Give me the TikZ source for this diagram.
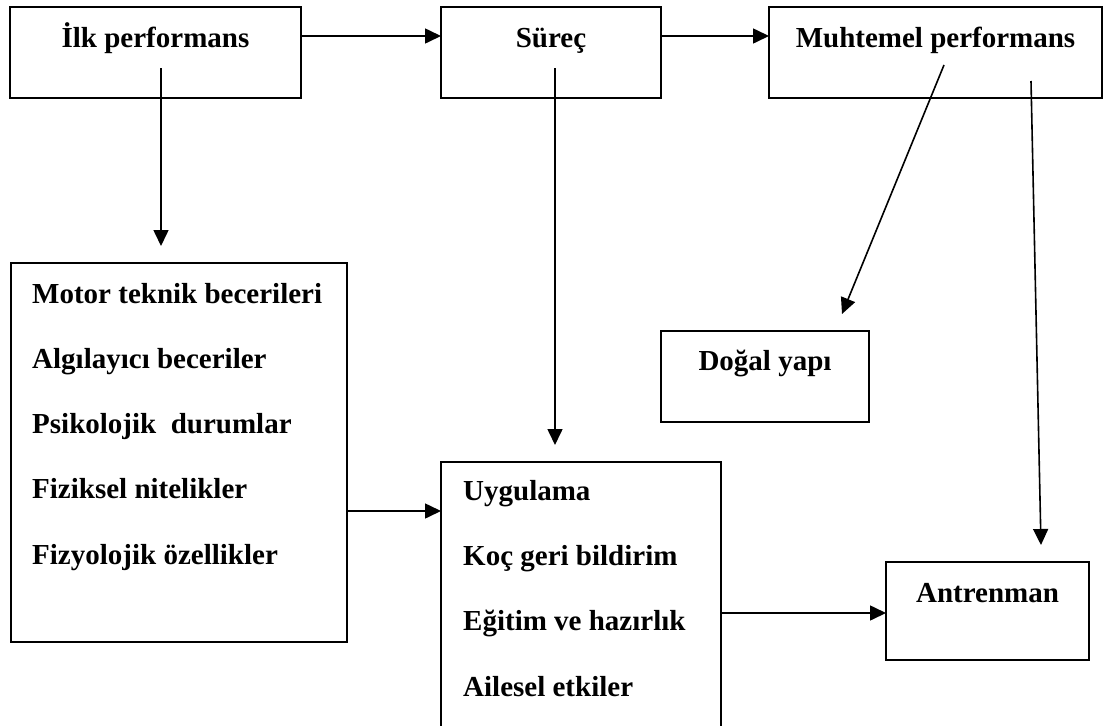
\documentclass[tikz,border=0pt]{standalone}
\usepackage{fontspec}
\setmainfont{Liberation Serif}
\usetikzlibrary{arrows.meta}
\begin{document}
\begin{tikzpicture}[x=1pt,y=-1pt,
  box/.style={draw, line width=2pt, inner sep=0pt, outer sep=0pt, rectangle},
  lbl/.style={font=\bfseries\fontsize{29}{34}\selectfont, inner sep=0pt},
  arr/.style={line width=1.6pt, -{Triangle[length=16pt,width=15pt]}}]
\useasboundingbox (0,0) rectangle (1104,726);
\fill[white] (0,0) rectangle (1104,726);
\clip (0,0) rectangle (1104,726);

% boxes
\node[box, minimum width=291pt, minimum height=91pt] (ilk) at (155.5,52.5) {};
\node[box, minimum width=220pt, minimum height=91pt] (surec) at (551,52.5) {};
\node[box, minimum width=333pt, minimum height=91pt] (muht) at (935.5,52.5) {};
\node[box, minimum width=336pt, minimum height=379pt] (motor) at (179,452.5) {};
\node[box, minimum width=208pt, minimum height=91pt] (dogal) at (765,376.5) {};
\node[box, minimum width=280pt, minimum height=283pt] (uyg) at (581,603.5) {};
\node[box, minimum width=203pt, minimum height=98pt] (antr) at (987.5,611) {};

% titles
\node[lbl, anchor=base] (ilkT) at (155.5,47) {İlk performans};
\node[lbl, anchor=base] (surecT) at (551,47) {Süreç};
\node[lbl, anchor=base] (muhtT) at (935.5,47) {Muhtemel performans};
\node[lbl, anchor=base] (dogalT) at (765,370) {Doğal yapı};
\node[lbl, anchor=base] (antrT) at (987.5,602) {Antrenman};

% lists
\node[lbl, anchor=base west] (m1) at (32,303) {Motor teknik becerileri};
\node[lbl, anchor=base west] (m2) at (32,368) {Algılayıcı beceriler};
\node[lbl, anchor=base west] (m3) at (32,433) {Psikolojik\ \ durumlar};
\node[lbl, anchor=base west] (m4) at (32,498) {Fiziksel nitelikler};
\node[lbl, anchor=base west] (m5) at (32,564) {Fizyolojik özellikler};

\node[lbl, anchor=base west] (u1) at (463,500) {Uygulama};
\node[lbl, anchor=base west] (u2) at (463,565) {Koç geri bildirim};
\node[lbl, anchor=base west] (u3) at (463,630) {Eğitim ve hazırlık};
\node[lbl, anchor=base west] (u4) at (463,696) {Ailesel etkiler};

% free connector ends
\coordinate (a1s) at (161,68);
\coordinate (a1e) at (161,246);
\coordinate (a2s) at (555,68);
\coordinate (a2e) at (555,445);
\coordinate (a3s) at (944,65);
\coordinate (a3e) at (842,314);
\coordinate (a4s) at (1031,81);
\coordinate (a4e) at (1041,545);
\coordinate (r1) at (0,511);
\coordinate (r2) at (0,613);

% connectors
\draw[arr] ([yshift=-29pt]ilk.north east) -- ([yshift=-29pt]surec.north west);
\draw[arr] ([yshift=-29pt]surec.north east) -- ([yshift=-29pt]muht.north west);
\draw[arr] (a1s) -- (a1e);
\draw[arr] (a2s) -- (a2e);
\draw[arr] (a3s) -- (a3e);
\draw[arr] (a4s) -- (a4e);
\draw[arr] (motor.east |- r1) -- (uyg.west |- r1);
\draw[arr] (uyg.east |- r2) -- (antr.west |- r2);
\end{tikzpicture}
\end{document}
